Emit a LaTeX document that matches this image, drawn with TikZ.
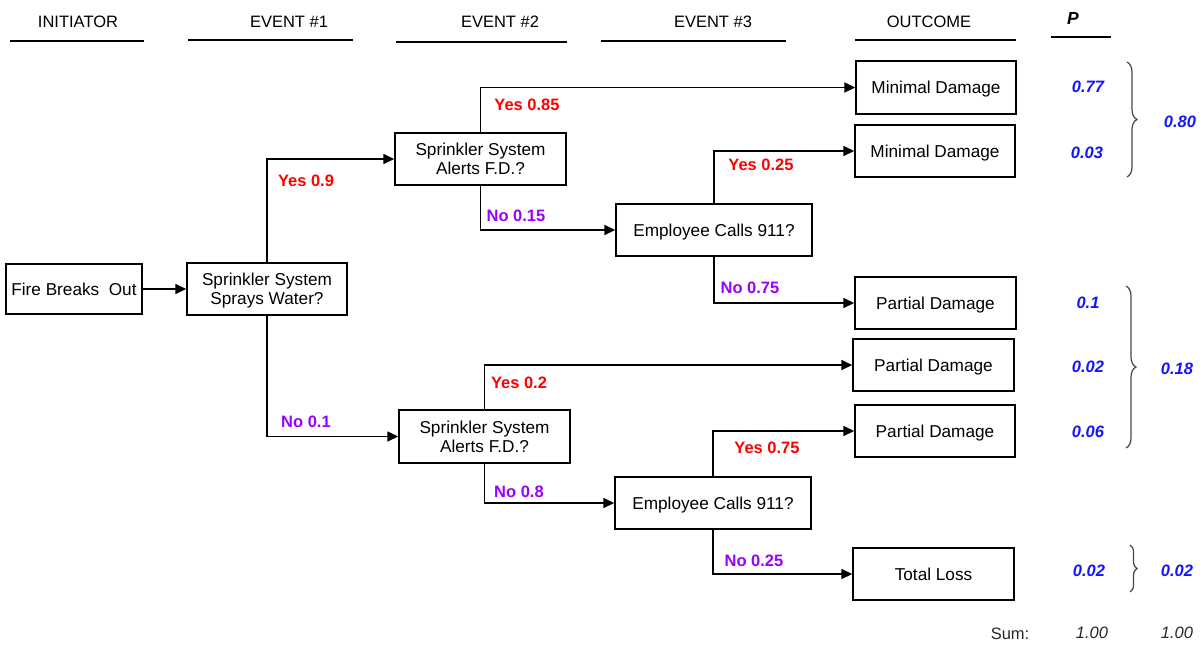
\documentclass[tikz,border=0pt]{standalone}
\usepackage{fontspec}
\setmainfont{Liberation Sans}
\usetikzlibrary{arrows.meta,decorations.pathreplacing}
\definecolor{yescol}{RGB}{255,0,0}
\definecolor{nocol}{RGB}{153,0,255}
\definecolor{pcol}{RGB}{20,20,255}
\definecolor{bracecol}{RGB}{70,70,70}
\definecolor{sumcol}{RGB}{40,40,40}
\begin{document}
\begin{tikzpicture}[x=1pt,y=-1pt,
  box/.style={draw=black, line width=1.4pt, minimum height=52pt, inner sep=0pt,
    align=center, text depth=0pt, font=\fontsize{17.2}{19}\selectfont},
  link/.style={line width=1.5pt, -{Triangle[length=11pt,width=10pt]}},
  head/.style={font=\fontsize{16.5}{18}\selectfont, inner sep=0pt},
  rule/.style={line width=2.6pt},
  yes/.style={text=yescol, font=\fontsize{16.5}{18}\selectfont\bfseries, inner sep=0pt},
  no/.style={text=nocol, font=\fontsize{16.5}{18}\selectfont\bfseries, inner sep=0pt},
  prob/.style={text=pcol, font=\fontsize{16.5}{18}\selectfont\bfseries\itshape, inner sep=0pt},
  total/.style={text=sumcol, font=\fontsize{16.5}{18}\selectfont\itshape, inner sep=0pt},
  grp/.style={draw=bracecol, line width=1.2pt, decorate}]
\useasboundingbox (0,0) rectangle (1204,646);

% column headings
\node[head] (hInit) at (78,22) {INITIATOR};
\node[head] (hEv1) at (289,22) {EVENT \#1};
\node[head] (hEv2) at (500,22) {EVENT \#2};
\node[head] (hEv3) at (713,22) {EVENT \#3};
\node[head] (hOut) at (929,22) {OUTCOME};
\node[head, font=\fontsize{17.5}{18}\selectfont\bfseries\itshape] (hP) at (1073,18) {P};
\draw[rule] (10,41) -- (144,41);
\draw[rule] (188,40) -- (353,40);
\draw[rule] (396,42) -- (567,42);
\draw[rule] (601,41) -- (786,41);
\draw[rule] (855,40) -- (1016,40);
\draw[rule] (1051,37) -- (1111,37);

% event boxes
\node[box, minimum width=136pt, minimum height=50pt] (fire) at (74,289) {Fire Breaks\ \ Out};
\node[box, minimum width=160pt] (spray) at (267,289) {Sprinkler System\\Sprays Water?};
\node[box, minimum width=171pt] (alertA) at (480.5,159) {Sprinkler System\\Alerts F.D.?};
\node[box, minimum width=196pt] (callA) at (714,230) {Employee Calls 911?};
\node[box, minimum width=171pt, minimum height=53pt] (alertB) at (484.5,436.5) {Sprinkler System\\Alerts F.D.?};
\node[box, minimum width=196pt] (callB) at (713,503) {Employee Calls 911?};

% outcome boxes
\node[box, minimum width=160pt, minimum height=53pt] (out1) at (936,87.5) {Minimal Damage};
\node[box, minimum width=160pt] (out2) at (935,151) {Minimal Damage};
\node[box, minimum width=161pt] (out3) at (935.5,303) {Partial Damage};
\node[box, minimum width=161pt] (out4) at (933.5,365) {Partial Damage};
\node[box, minimum width=160pt] (out5) at (935,431) {Partial Damage};
\node[box, minimum width=161pt] (out6) at (933.5,574) {Total Loss};

% branches
\draw[link] (fire) -- (spray);
\draw[link] (spray.north) |- (alertA.west);
\draw[link] (spray.south) |- (alertB.west);
\draw[link] (alertA.north) |- (out1.west);
\draw[link] (alertA.south) |- (callA.west);
\draw[link] (callA.north) |- (out2.west);
\draw[link] (callA.south) |- (out3.west);
\draw[link] (alertB.north) |- (out4.west);
\draw[link] (alertB.south) |- (callB.west);
\draw[link] (callB.north) |- (out5.west);
\draw[link] (callB.south) |- (out6.west);

% branch probabilities
\node[yes] (lY09) at (306,181) {Yes 0.9};
\node[no] (lN01) at (306,422) {No 0.1};
\node[yes] (lY085) at (527,105) {Yes 0.85};
\node[no] (lN015) at (516,216) {No 0.15};
\node[yes] (lY02) at (519,383) {Yes 0.2};
\node[no] (lN08) at (519,492) {No 0.8};
\node[yes] (lY025) at (761,165) {Yes 0.25};
\node[no] (lN075) at (750,288) {No 0.75};
\node[yes] (lY075) at (767,448) {Yes 0.75};
\node[no] (lN025) at (754,561) {No 0.25};

% outcome probabilities
\node[prob] (p1) at (1088,87) {0.77};
\node[prob] (p2) at (1087,153) {0.03};
\node[prob] (p3) at (1088,303) {0.1};
\node[prob] (p4) at (1088,367) {0.02};
\node[prob] (p5) at (1088,432) {0.06};
\node[prob] (p6) at (1089,571) {0.02};

% grouped totals
\draw[grp, decoration={brace, amplitude=10pt}] (1127,62) -- (1127,177);
\draw[grp, decoration={brace, amplitude=10pt}] (1126,286) -- (1126,448);
\draw[grp, decoration={brace, amplitude=7pt}] (1130,545) -- (1130,592);
\node[prob] (g1) at (1180,122) {0.80};
\node[prob] (g2) at (1177,369) {0.18};
\node[prob] (g3) at (1177,571) {0.02};

% column sums
\node[font=\fontsize{16.5}{18}\selectfont, text=sumcol, inner sep=0pt] (sumLbl) at (1010,634) {Sum:};
\node[total] (sumP) at (1092,633) {1.00};
\node[total] (sumG) at (1177,633) {1.00};
\end{tikzpicture}
\end{document}
